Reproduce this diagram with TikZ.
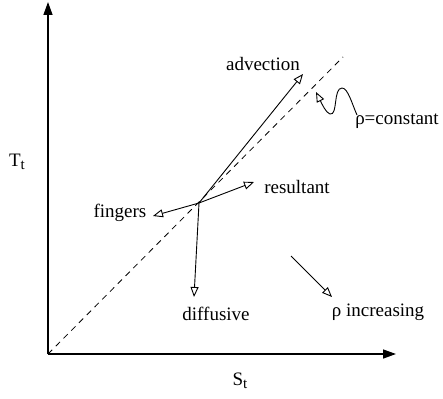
\documentclass[tikz,border=0pt]{standalone}
\usepackage{fontspec}
\setmainfont{Liberation Serif}
\usetikzlibrary{arrows.meta}
\newcommand{\mysub}[1]{\raisebox{-0.4ex}{\fontsize{15}{17}\selectfont #1}}
\begin{document}
\begin{tikzpicture}[x=1pt,y=-1pt,
  lbl/.style={inner sep=0pt,font=\fontsize{19}{22}\selectfont},
  vec/.style={line width=0.9pt,-{Triangle[open,length=10pt,width=8pt]}},
  axis/.style={line width=1.4pt,-{Triangle[length=13pt,width=9pt]}}]
\useasboundingbox (0,0) rectangle (443,398);
\coordinate (O) at (48,354);
\coordinate (Ytip) at (48,2);
\coordinate (Xtip) at (396,354);
\coordinate (Dend) at (343,57);
\coordinate (C) at (199,203);
\coordinate (Aend) at (303,74);
\coordinate (Rend) at (254,182);
\coordinate (Fend) at (153,216);
\coordinate (Dfend) at (194,297);
\coordinate (Istart) at (291,256);
\coordinate (Iend) at (332,297);
\coordinate (Wstart) at (357,115);
\coordinate (Wend) at (316,92);
\draw[axis] (O) -- (Ytip);
\draw[axis] (O) -- (Xtip);
\draw[line width=0.8pt,dash pattern=on 6pt off 5pt] (O) -- (Dend);
\draw[vec] (C) -- (Aend);
\draw[vec] (C) -- (Rend);
\draw[vec] (C) -- (Fend);
\draw[vec] (C) -- (Dfend);
\draw[vec] (Istart) -- (Iend);
\draw[vec] (Wstart) .. controls (352,104) and (348,88) .. (342,88)
  .. controls (333,88) and (338,116) .. (330,114)
  .. controls (326,113) and (322,104) .. (Wend);
\node[lbl] (adv) at (263,64) {advection};
\node[lbl] (rhoc) at (397,121) {ρ=constant};
\node[lbl] (res) at (297,187) {resultant};
\node[lbl] (fing) at (120,213) {fingers};
\node[lbl] (diff) at (216,314) {diffusive};
\node[lbl] (rhoi) at (378,312) {ρ increasing};
\node[lbl] (T) at (17,162) {T\mysub{t}};
\node[lbl] (S) at (240,381) {S\mysub{t}};
\end{tikzpicture}
\end{document}
